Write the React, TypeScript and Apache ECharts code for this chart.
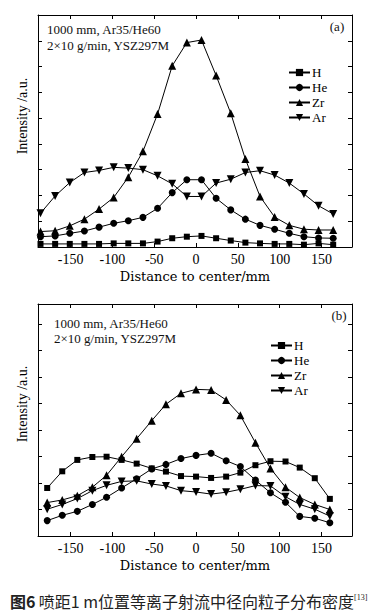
import React, { useEffect, useRef } from "react";
import * as echarts from "echarts";

// ---- data (a) ----
const xTop = [-186, -168.5, -151, -133.5, -116, -98.5, -81, -63.5, -46, -28.5, -11, 6.5, 24, 41.5, 59, 76.5, 94, 111.5, 129, 146.5, 164];
const hTop = [0.12, 0.12, 0.12, 0.12, 0.12, 0.14, 0.14, 0.14, 0.21, 0.34, 0.4, 0.43, 0.34, 0.25, 0.17, 0.14, 0.12, 0.12, 0.09, 0.14, 0.09];
const heTop = [0.4, 0.43, 0.53, 0.62, 0.77, 0.92, 1.02, 1.15, 1.5, 2.11, 2.61, 2.61, 1.89, 1.44, 1.08, 0.84, 0.69, 0.53, 0.4, 0.35, 0.34];
const zrTop = [0.6, 0.63, 0.82, 1.08, 1.47, 1.92, 2.71, 3.71, 5.16, 7.03, 7.93, 8.03, 6.65, 5.19, 3.41, 1.96, 1.16, 0.84, 0.69, 0.66, 0.66];
const arTop = [1.31, 1.98, 2.5, 2.89, 2.97, 3.09, 3.06, 3.0, 2.76, 2.45, 1.96, 1.96, 2.48, 2.63, 2.89, 2.96, 2.79, 2.48, 2.06, 1.6, 1.28];

// ---- data (b) ----
const xBot = [-178, -160, -142, -124, -107, -89, -71, -53, -36, -18, 0, 18, 36, 53, 71, 89, 107, 124, 142, 160];
const hBot = [1.81, 2.44, 2.87, 2.98, 2.99, 2.87, 2.73, 2.55, 2.43, 2.26, 2.24, 2.19, 2.24, 2.39, 2.67, 2.82, 2.81, 2.58, 2.18, 1.4];
const heBot = [0.58, 0.78, 0.93, 1.19, 1.46, 1.81, 2.16, 2.53, 2.7, 2.92, 3.04, 3.12, 2.84, 2.62, 2.11, 1.63, 1.27, 0.74, 0.67, 0.5];
const zrBot = [1.26, 1.36, 1.52, 1.84, 2.29, 2.99, 3.67, 4.35, 4.97, 5.38, 5.53, 5.51, 5.13, 4.55, 3.52, 2.55, 1.84, 1.45, 1.19, 1.0];
const arBot = [1.01, 1.19, 1.41, 1.71, 1.91, 2.06, 2.08, 1.96, 1.89, 1.71, 1.66, 1.58, 1.65, 1.76, 1.9, 1.89, 1.48, 1.19, 1.01, 0.75];

const xTicks = [-150, -100, -50, 0, 50, 100, 150];
const yTicksTop = [0, 1, 2, 3, 4, 5, 6, 7, 8, 9];
const yTicksBot = [0, 1, 2, 3, 4, 5, 6, 7, 8];
const names = ["H", "He", "Zr", "Ar"];
const symbols = ["rect", "circle", "triangle", "triangle"];
const symbolSizes = [6, 7, 8, 8];
const rotates = [0, 0, 0, 180];

const SERIF = "Liberation Serif";
const WIDE = "DejaVu Serif";

export default function App() {
  const ref = useRef<HTMLDivElement>(null);
  useEffect(() => {
    if (!ref.current) return;
    const chart = echarts.init(ref.current, undefined, { renderer: "svg" });
    const black = "#000";

    const xAxisFor = (grid: number, pos: "bottom" | "top") => ({
      type: "value",
      gridIndex: grid,
      position: pos,
      min: -189,
      max: 186.5,
      name: pos === "bottom" ? "Distance to center/mm" : "",
      nameLocation: "middle",
      nameGap: 23,
      nameTextStyle: { color: black, fontFamily: WIDE, fontSize: 13 },
      axisLine: { show: true, onZero: false, lineStyle: { color: black, width: 1 } },
      axisTick: { show: true, inside: true, length: 4, customValues: xTicks, lineStyle: { color: black } },
      axisLabel: {
        show: pos === "bottom",
        customValues: xTicks,
        color: black,
        fontFamily: SERIF,
        fontSize: 14,
        margin: 5,
      },
      splitLine: { show: false },
    });
    const yAxisFor = (grid: number, pos: "left" | "right", max: number, ticks: number[]) => ({
      type: "value",
      gridIndex: grid,
      position: pos,
      min: 0,
      max,
      axisLine: { show: true, onZero: false, lineStyle: { color: black, width: 1 } },
      axisTick: { show: true, inside: true, length: 4, customValues: ticks, lineStyle: { color: black } },
      axisLabel: { show: false },
      splitLine: { show: false },
    });

    const datasets = [
      [hTop, heTop, zrTop, arTop],
      [hBot, heBot, zrBot, arBot],
    ];
    const xs = [xTop, xBot];
    const series: any[] = [];
    for (let g = 0; g < 2; g++) {
      for (let k = 0; k < 4; k++) {
        series.push({
          type: "line",
          name: names[k],
          xAxisIndex: g * 2,
          yAxisIndex: g * 2,
          data: xs[g].map((x, i) => [x, datasets[g][k][i]]),
          symbol: symbols[k],
          symbolSize: symbolSizes[k],
          symbolRotate: rotates[k],
          showAllSymbol: true,
          lineStyle: { color: black, width: 1 },
          itemStyle: { color: black },
          clip: false,
        });
      }
    }

    const legendFor = (left: number, top: number) => ({
      orient: "vertical",
      left,
      top,
      itemWidth: 21,
      itemHeight: 9,
      itemGap: 2,
      data: names,
      selectedMode: false,
      textStyle: { color: black, fontFamily: SERIF, fontSize: 13, lineHeight: 13, padding: [0, 0, 0, -3] },
    });

    const txt = (x: number, y: number, text: string, extra: any = {}) => ({
      type: "text",
      x,
      y,
      style: {
        text,
        fill: "#111",
        font: `13px "${SERIF}"`,
        textVerticalAlign: "middle",
        ...extra,
      },
    });

    chart.setOption({
      animation: false,
      grid: [
        { left: 38, top: 15, width: 314, height: 232 },
        { left: 38, top: 304, width: 314, height: 232 },
      ],
      xAxis: [xAxisFor(0, "bottom"), xAxisFor(0, "top"), xAxisFor(1, "bottom"), xAxisFor(1, "top")],
      yAxis: [
        yAxisFor(0, "left", 9, yTicksTop),
        yAxisFor(0, "right", 9, yTicksTop),
        yAxisFor(1, "left", 8.75, yTicksBot),
        yAxisFor(1, "right", 8.75, yTicksBot),
      ],
      legend: [legendFor(283, 61), legendFor(265, 334)],
      series,
      graphic: [
        txt(47, 29, "1000 mm, Ar35/He60"),
        txt(47, 45, "2×10 g/min, YSZ297M"),
        txt(337, 26, "(a)", { textAlign: "center" }),
        txt(54, 323, "1000 mm, Ar35/He60"),
        txt(54, 338, "2×10 g/min, YSZ297M"),
        txt(339, 315, "(b)", { textAlign: "center" }),
        {
          type: "text",
          x: 22,
          y: 116,
          rotation: Math.PI / 2,
          style: {
            text: "Intensity /a.u.",
            fill: black,
            font: `14px "${SERIF}"`,
            textAlign: "center",
            textVerticalAlign: "middle",
          },
        },
        {
          type: "text",
          x: 22,
          y: 404,
          rotation: Math.PI / 2,
          style: {
            text: "Intensity /a.u.",
            fill: black,
            font: `14px "${SERIF}"`,
            textAlign: "center",
            textVerticalAlign: "middle",
          },
        },
        {
          type: "text",
          x: 10,
          y: 601,
          style: {
            text: "{b|图6} {n|喷距1 m位置等离子射流中径向粒子分布密度}{s|[13]}",
            textVerticalAlign: "middle",
            rich: {
              b: { fontFamily: "Noto Sans CJK SC", fontWeight: "bold", fontSize: 16, fill: "#222" },
              n: { fontFamily: "Noto Sans CJK SC", fontSize: 16, fill: "#222" },
              s: { fontFamily: SERIF, fontSize: 8, fill: "#222", verticalAlign: "top", padding: [0, 0, 8, 0] },
            },
          },
        },
      ],
    });
    return () => chart.dispose();
  }, []);
  return <div ref={ref} style={{ position: "fixed", left: 0, top: 0, width: 369, height: 616, background: "#fff" }} />;
}
